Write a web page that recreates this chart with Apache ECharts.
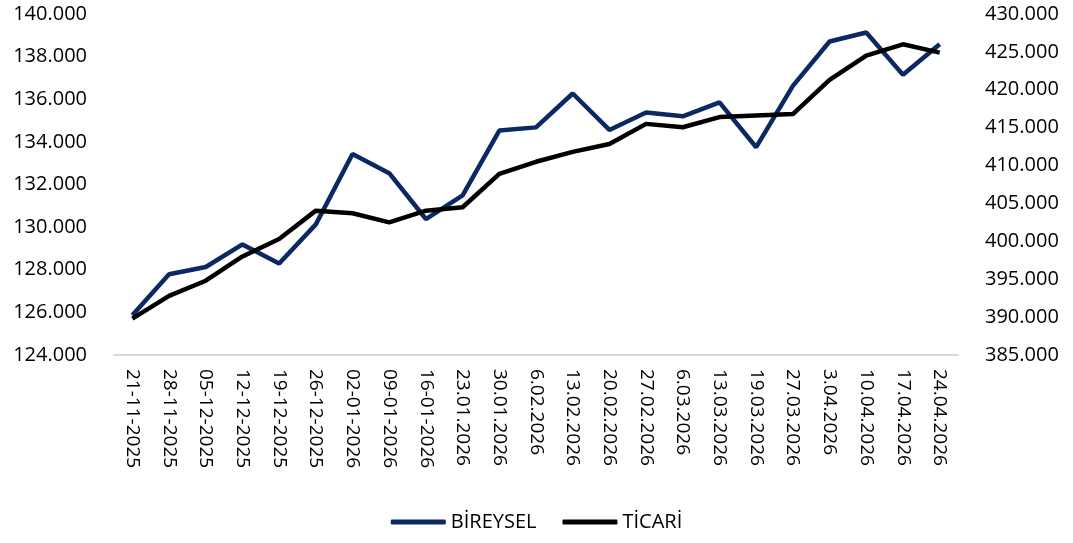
<!DOCTYPE html>
<html>
<head>
<meta charset="utf-8">
<script src="https://cdn.jsdelivr.net/npm/echarts@6/dist/echarts.min.js"></script>
<style>
  html, body { margin: 0; padding: 0; background: #fff; }
  #chart { width: 1073px; height: 543px; }
</style>
</head>
<body>
<div id="chart"></div>
<script>
const dates = [
  '21-11-2025', '28-11-2025', '05-12-2025', '12-12-2025', '19-12-2025', '26-12-2025',
  '02-01-2026', '09-01-2026', '16-01-2026', '23.01.2026', '30.01.2026', '6.02.2026',
  '13.02.2026', '20.02.2026', '27.02.2026', '6.03.2026', '13.03.2026', '19.03.2026',
  '27.03.2026', '3.04.2026', '10.04.2026', '17.04.2026', '24.04.2026'
]
// left axis (thousands)
const bireysel = [
  125.87, 127.79, 128.13, 129.19, 128.29, 130.13, 133.43, 132.53, 130.38, 131.49,
  134.53, 134.68, 136.27, 134.56, 135.38, 135.20, 135.85, 133.75, 136.63, 138.71,
  139.13, 137.15, 138.58
]
// right axis (thousands)
const ticari = [
  389.8, 392.8, 394.8, 398.0, 400.3, 404.05, 403.7, 402.5, 404.05, 404.5,
  408.9, 410.5, 411.8, 412.85, 415.5, 415.05, 416.4, 416.6, 416.8, 421.3,
  424.5, 426.0, 424.9
]

const font = 'Open Sans'
const fmt = v => v.toFixed(3)

const chart = echarts.init(document.getElementById('chart'))
chart.setOption({
  animation: false,
  textStyle: { fontFamily: font, color: '#000' },
  grid: { left: 114, right: 115, top: 14, bottom: 188 },
  legend: {
    bottom: 6, left: 'center', itemGap: 26, itemWidth: 55, itemHeight: 5,
    icon: 'roundRect',
    textStyle: { fontSize: 20, color: '#000', fontFamily: font },
    data: ['BİREYSEL', 'TİCARİ']
  },
  xAxis: {
    type: 'category', data: dates,
    axisLine: { lineStyle: { color: '#d9d9d9', width: 2 } },
    axisTick: { show: false },
    axisLabel: { rotate: -90, fontSize: 19, color: '#000', margin: 14, interval: 0 }
  },
  yAxis: [
    {
      type: 'value', min: 124, max: 140, interval: 2,
      splitLine: { show: false }, axisLine: { show: false }, axisTick: { show: false },
      axisLabel: { fontSize: 20, color: '#000', margin: 27, formatter: fmt }
    },
    {
      type: 'value', min: 385, max: 430, interval: 5,
      splitLine: { show: false }, axisLine: { show: false }, axisTick: { show: false },
      axisLabel: { fontSize: 20, color: '#000', margin: 27, formatter: fmt }
    }
  ],
  series: [
    {
      name: 'BİREYSEL', type: 'line', data: bireysel, yAxisIndex: 0,
      symbol: 'none', color: '#0b2862',
      lineStyle: { width: 4.5, color: '#0b2862' }
    },
    {
      name: 'TİCARİ', type: 'line', data: ticari, yAxisIndex: 1,
      symbol: 'none', color: '#000',
      lineStyle: { width: 4.5, color: '#000' }
    }
  ]
})
</script>
</body>
</html>
